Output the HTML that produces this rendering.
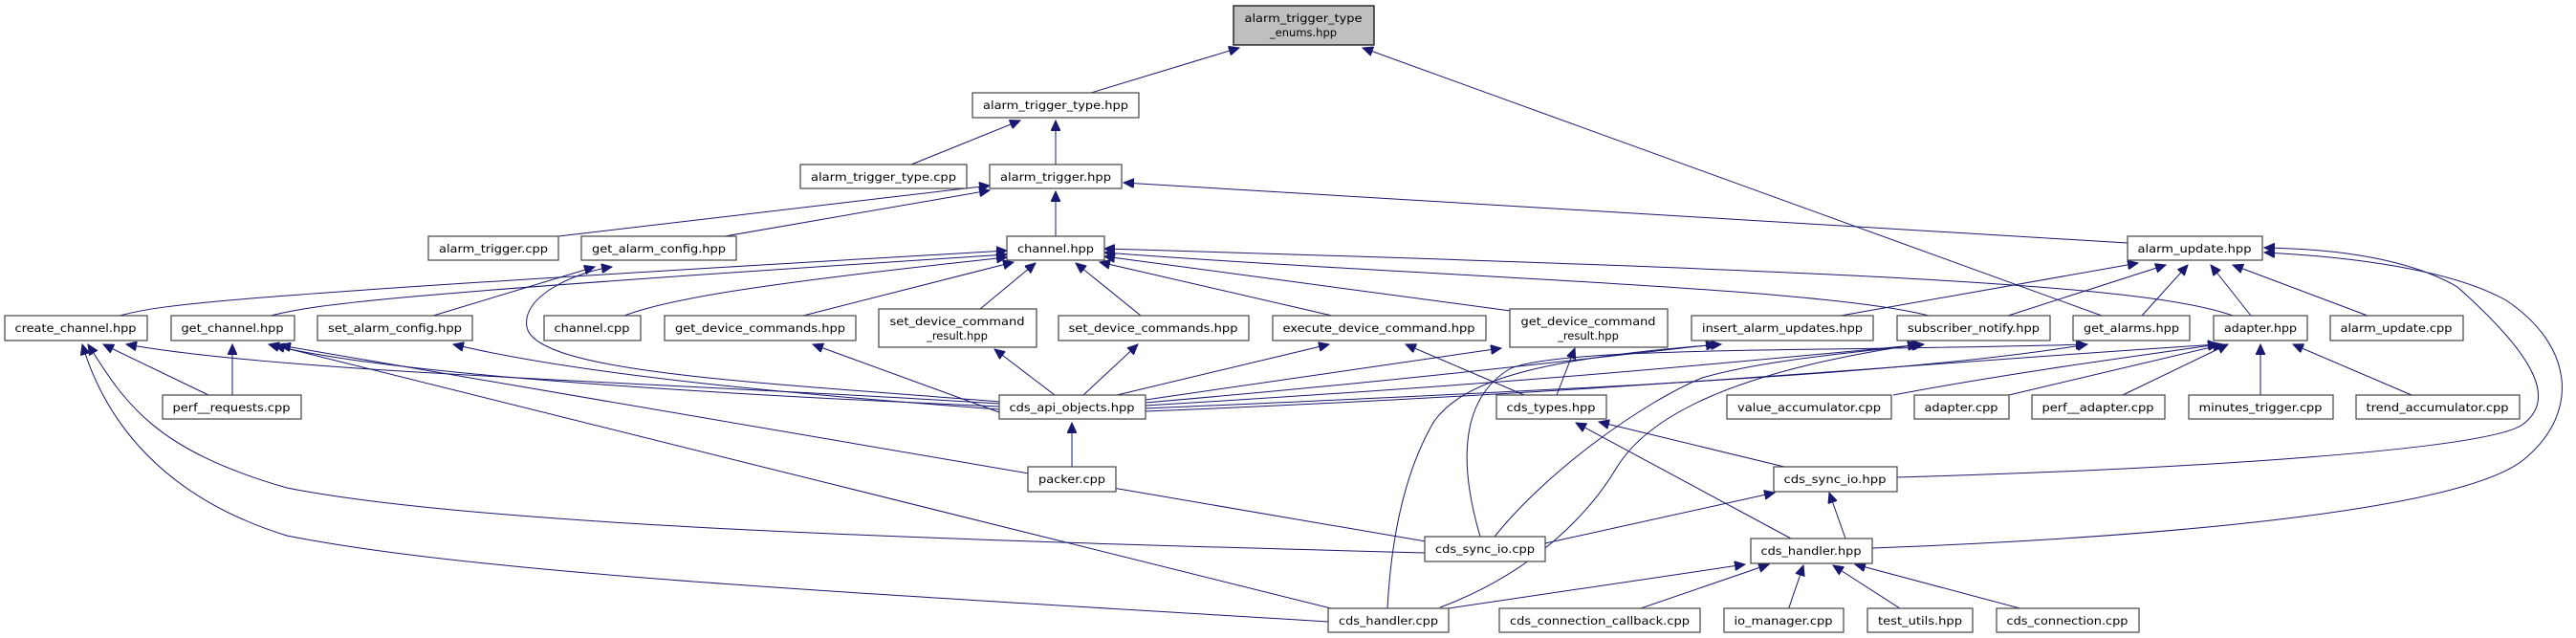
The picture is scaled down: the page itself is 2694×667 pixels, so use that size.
<!DOCTYPE html>
<html><head><meta charset="utf-8"><style>
html,body{margin:0;padding:0;background:#fff;}
svg{display:block}
text{font-family:"DejaVu Sans","Liberation Sans",sans-serif;font-size:11.5px;fill:#000;text-anchor:middle}
.n{fill:#fff;stroke:#444;stroke-width:1.2}
.e{fill:none;stroke:#191970;stroke-width:1}
</style></head><body>
<svg width="2694" height="667" viewBox="0 0 2694 667" xmlns="http://www.w3.org/2000/svg">
<defs><marker id="a" markerUnits="userSpaceOnUse" markerWidth="12" markerHeight="10" refX="11" refY="5" orient="auto"><path d="M0,0 L11,5 L0,10 Z" fill="#191970" stroke="#191970"/></marker></defs>
<g class="e" marker-end="url(#a)">
<path d="M1141,97 L1296,50"/>
<path d="M2198,330 L1425,50"/>
<path d="M953,172 L1067,126"/>
<path d="M1104,172 L1104,126"/>
<path d="M584,247 L1035,194"/>
<path d="M758,247 L1035,199"/>
<path d="M1104,247 L1104,200"/>
<path d="M2225,254 L1175,191"/>
<path d="M125,330 C170,318 220,310 1053,262"/>
<path d="M283,330 C330,318 400,308 1053,266"/>
<path d="M653,330 C700,312 800,296 1053,269"/>
<path d="M840,330 L1060,274"/>
<path d="M1025,323 L1083,275"/>
<path d="M1193,330 L1125,275"/>
<path d="M1393,330 L1150,274"/>
<path d="M1580,325 L1155,268"/>
<path d="M2017,330 C1900,300 1500,290 1155,264"/>
<path d="M2335,330 C2250,300 2000,285 1155,260"/>
<path d="M453,330 L622,279"/>
<path d="M1045,420 C800,400 560,390 551,342 C545,310 600,285 640,279"/>
<path d="M1925,330 L2236,275"/>
<path d="M2100,330 L2265,277"/>
<path d="M2240,330 L2288,277"/>
<path d="M2354,330 L2312,277"/>
<path d="M2476,330 L2335,277"/>
<path d="M1984,499 C2300,490 2600,470 2638,444 C2670,420 2660,380 2570,300 C2510,265 2420,260 2368,259"/>
<path d="M1958,573 C2300,560 2580,530 2640,480 C2700,430 2690,360 2621,314 C2560,280 2450,268 2368,264"/>
<path d="M1045,422 C700,400 300,390 132,360"/>
<path d="M1045,425 C700,410 400,390 281,360"/>
<path d="M1045,428 C800,410 600,390 474,360"/>
<path d="M1045,431 L850,360"/>
<path d="M1103,413 L1040,365"/>
<path d="M1133,413 L1190,360"/>
<path d="M1168,413 L1390,360"/>
<path d="M1198,418 L1570,364"/>
<path d="M1198,421 C1500,395 1700,370 1795,360"/>
<path d="M1198,424 C1600,400 1800,380 2012,360"/>
<path d="M1198,427 C1700,405 2000,390 2183,360"/>
<path d="M1198,430 C1700,410 2000,380 2320,360"/>
<path d="M1594,413 L1470,360"/>
<path d="M1628,413 L1647,364"/>
<path d="M1866,488 L1672,441"/>
<path d="M1873,563 L1648,442"/>
<path d="M1616,568 L1856,515"/>
<path d="M1490,578 C1000,565 500,550 300,510 C160,470 130,420 92,360"/>
<path d="M1491,566 L293,361"/>
<path d="M1548,561 C1530,500 1520,420 1580,385 C1640,362 1900,368 2182,360"/>
<path d="M1563,561 C1620,490 1720,420 1780,395 C1850,375 1950,368 2010,360"/>
<path d="M1930,563 L1913,515"/>
<path d="M1515,636 L1825,590"/>
<path d="M1710,638 L1850,590"/>
<path d="M1870,638 L1886,591"/>
<path d="M1990,638 L1917,591"/>
<path d="M2120,638 L1940,590"/>
<path d="M1389,650 C900,620 500,600 300,560 C170,520 110,440 86,360"/>
<path d="M1400,638 L287,361"/>
<path d="M1451,636 C1455,560 1470,491 1500,440 C1530,400 1600,375 1800,360"/>
<path d="M1506,635 C1600,600 1660,540 1690,490 C1720,440 1800,390 2006,360"/>
<path d="M1121,488 L1121,442"/>
<path d="M218,413 L108,360"/>
<path d="M243,413 L243,360"/>
<path d="M1980,413 C2100,390 2250,370 2320,360"/>
<path d="M2101,413 L2325,360"/>
<path d="M2220,413 L2330,360"/>
<path d="M2364,413 L2364,360"/>
<path d="M2522,413 L2398,360"/>
</g>
<rect x="1290" y="6" width="147" height="41" fill="#bfbfbf" stroke="#000" stroke-width="1.2"/>
<text x="1363" y="23" textLength="123" lengthAdjust="spacingAndGlyphs">alarm_trigger_type</text>
<text x="1363" y="38">_enums.hpp</text>
<g>
<rect class="n" x="1017" y="97" width="174" height="26"/><text x="1104" y="114" textLength="152" lengthAdjust="spacingAndGlyphs">alarm_trigger_type.hpp</text>
<rect class="n" x="837" y="172" width="174" height="25"/><text x="924" y="189" textLength="152" lengthAdjust="spacingAndGlyphs">alarm_trigger_type.cpp</text>
<rect class="n" x="1035" y="172" width="138" height="25"/><text x="1104" y="189" textLength="116" lengthAdjust="spacingAndGlyphs">alarm_trigger.hpp</text>
<rect class="n" x="448" y="247" width="136" height="25"/><text x="516" y="264" textLength="114" lengthAdjust="spacingAndGlyphs">alarm_trigger.cpp</text>
<rect class="n" x="608" y="247" width="162" height="25"/><text x="689" y="264" textLength="140" lengthAdjust="spacingAndGlyphs">get_alarm_config.hpp</text>
<rect class="n" x="1053" y="247" width="102" height="25"/><text x="1104" y="264" textLength="80" lengthAdjust="spacingAndGlyphs">channel.hpp</text>
<rect class="n" x="2225" y="247" width="141" height="25"/><text x="2295" y="264" textLength="119" lengthAdjust="spacingAndGlyphs">alarm_update.hpp</text>
<rect class="n" x="5" y="330" width="149" height="26"/><text x="79" y="347" textLength="127" lengthAdjust="spacingAndGlyphs">create_channel.hpp</text>
<rect class="n" x="179" y="330" width="129" height="26"/><text x="243" y="347" textLength="107" lengthAdjust="spacingAndGlyphs">get_channel.hpp</text>
<rect class="n" x="332" y="330" width="162" height="26"/><text x="413" y="347" textLength="140" lengthAdjust="spacingAndGlyphs">set_alarm_config.hpp</text>
<rect class="n" x="569" y="330" width="101" height="26"/><text x="619" y="347" textLength="79" lengthAdjust="spacingAndGlyphs">channel.cpp</text>
<rect class="n" x="695" y="330" width="200" height="26"/><text x="795" y="347" textLength="178" lengthAdjust="spacingAndGlyphs">get_device_commands.hpp</text>
<rect class="n" x="919" y="323" width="165" height="40"/><text x="1001" y="340" textLength="141" lengthAdjust="spacingAndGlyphs">set_device_command</text><text x="1001" y="355">_result.hpp</text>
<rect class="n" x="1107" y="330" width="199" height="26"/><text x="1206" y="347" textLength="177" lengthAdjust="spacingAndGlyphs">set_device_commands.hpp</text>
<rect class="n" x="1331" y="330" width="223" height="26"/><text x="1442" y="347" textLength="201" lengthAdjust="spacingAndGlyphs">execute_device_command.hpp</text>
<rect class="n" x="1579" y="323" width="165" height="40"/><text x="1661" y="340" textLength="141" lengthAdjust="spacingAndGlyphs">get_device_command</text><text x="1661" y="355">_result.hpp</text>
<rect class="n" x="1769" y="330" width="190" height="26"/><text x="1864" y="347" textLength="168" lengthAdjust="spacingAndGlyphs">insert_alarm_updates.hpp</text>
<rect class="n" x="1984" y="330" width="160" height="26"/><text x="2064" y="347" textLength="138" lengthAdjust="spacingAndGlyphs">subscriber_notify.hpp</text>
<rect class="n" x="2168" y="330" width="122" height="26"/><text x="2229" y="347" textLength="100" lengthAdjust="spacingAndGlyphs">get_alarms.hpp</text>
<rect class="n" x="2315" y="330" width="98" height="26"/><text x="2364" y="347" textLength="76" lengthAdjust="spacingAndGlyphs">adapter.hpp</text>
<rect class="n" x="2437" y="330" width="139" height="26"/><text x="2506" y="347" textLength="117" lengthAdjust="spacingAndGlyphs">alarm_update.cpp</text>
<rect class="n" x="170" y="413" width="145" height="25"/><text x="242" y="430" textLength="123" lengthAdjust="spacingAndGlyphs">perf__requests.cpp</text>
<rect class="n" x="1045" y="413" width="153" height="25"/><text x="1121" y="430" textLength="131" lengthAdjust="spacingAndGlyphs">cds_api_objects.hpp</text>
<rect class="n" x="1565" y="413" width="115" height="25"/><text x="1622" y="430" textLength="93" lengthAdjust="spacingAndGlyphs">cds_types.hpp</text>
<rect class="n" x="1806" y="413" width="172" height="25"/><text x="1892" y="430" textLength="150" lengthAdjust="spacingAndGlyphs">value_accumulator.cpp</text>
<rect class="n" x="2002" y="413" width="99" height="25"/><text x="2051" y="430" textLength="77" lengthAdjust="spacingAndGlyphs">adapter.cpp</text>
<rect class="n" x="2125" y="413" width="139" height="25"/><text x="2194" y="430" textLength="117" lengthAdjust="spacingAndGlyphs">perf__adapter.cpp</text>
<rect class="n" x="2289" y="413" width="151" height="25"/><text x="2364" y="430" textLength="129" lengthAdjust="spacingAndGlyphs">minutes_trigger.cpp</text>
<rect class="n" x="2464" y="413" width="171" height="25"/><text x="2549" y="430" textLength="149" lengthAdjust="spacingAndGlyphs">trend_accumulator.cpp</text>
<rect class="n" x="1075" y="488" width="92" height="26"/><text x="1121" y="505" textLength="70" lengthAdjust="spacingAndGlyphs">packer.cpp</text>
<rect class="n" x="1855" y="488" width="129" height="26"/><text x="1919" y="505" textLength="107" lengthAdjust="spacingAndGlyphs">cds_sync_io.hpp</text>
<rect class="n" x="1490" y="561" width="126" height="26"/><text x="1553" y="578" textLength="104" lengthAdjust="spacingAndGlyphs">cds_sync_io.cpp</text>
<rect class="n" x="1831" y="563" width="127" height="26"/><text x="1894" y="580" textLength="105" lengthAdjust="spacingAndGlyphs">cds_handler.hpp</text>
<rect class="n" x="1389" y="636" width="126" height="25"/><text x="1452" y="653" textLength="104" lengthAdjust="spacingAndGlyphs">cds_handler.cpp</text>
<rect class="n" x="1568" y="636" width="210" height="25"/><text x="1673" y="653" textLength="188" lengthAdjust="spacingAndGlyphs">cds_connection_callback.cpp</text>
<rect class="n" x="1803" y="636" width="125" height="25"/><text x="1865" y="653" textLength="103" lengthAdjust="spacingAndGlyphs">io_manager.cpp</text>
<rect class="n" x="1953" y="636" width="110" height="25"/><text x="2008" y="653" textLength="88" lengthAdjust="spacingAndGlyphs">test_utils.hpp</text>
<rect class="n" x="2088" y="636" width="149" height="25"/><text x="2162" y="653" textLength="127" lengthAdjust="spacingAndGlyphs">cds_connection.cpp</text>
</g>
</svg>
</body></html>
